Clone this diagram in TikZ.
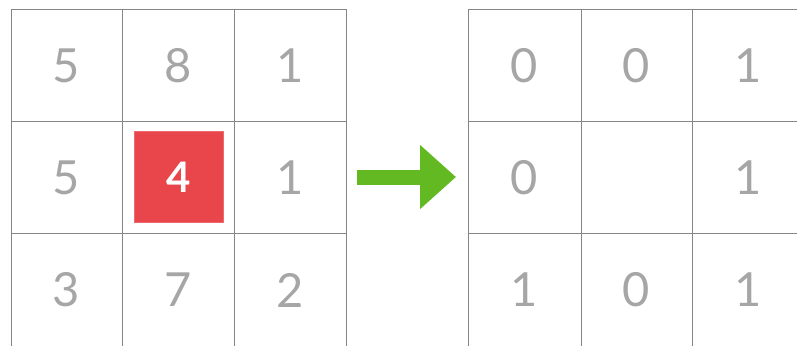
\documentclass[tikz,border=0pt]{standalone}
\usepackage{fontspec}
\setsansfont{Lato}
\usepackage{tikz}
\usetikzlibrary{arrows.meta,positioning}
\definecolor{gridc}{HTML}{858585}
\definecolor{digc}{HTML}{A6A6A6}
\definecolor{hotc}{HTML}{E8464A}
\definecolor{arrc}{HTML}{63B922}
\tikzset{
  gl/.style={gridc,line width=0.9pt},
  dig/.style={digc,font=\sffamily\fontsize{47}{47}\selectfont},
  hot/.style={fill=hotc,draw=hotc!80,line width=1pt,minimum width=89pt,minimum height=91pt,
    text=white,font=\sffamily\bfseries\fontsize{42}{42}\selectfont},
  ar/.style={-{Triangle[length=36pt,width=62pt]},line width=15pt,arrc}
}
\begin{document}
\begin{tikzpicture}[x=1pt,y=-1pt]
\useasboundingbox (0,0) rectangle (797,346);
% left grid
\foreach \x in {11,122,234,346} \draw[gl] (\x,9) -- (\x,346);
\foreach \y in {9,121,233} \draw[gl] (11,\y) -- (346,\y);
% right grid
\foreach \x in {468,581,692} \draw[gl] (\x,9) -- (\x,346);
\foreach \y in {9,121,233} \draw[gl] (468,\y) -- (797,\y);
% input values
\node[dig] (l11) at (66,66) {5};
\node[dig] (l12) at (178,66) {8};
\node[dig] (l13) at (290,66) {1};
\node[dig] (l21) at (66,178) {5};
\node[hot] (l22) at (179,177) {4};
\node[dig] (l23) at (290,178) {1};
\node[dig] (l31) at (66,290) {3};
\node[dig] (l32) at (178,290) {7};
\node[dig] (l33) at (290,290) {2};
% output values
\node[dig] (r11) at (524,66) {0};
\node[dig] (r12) at (636,66) {0};
\node[dig] (r13) at (748,66) {1};
\node[dig] (r21) at (524,178) {0};
\node[dig] (r23) at (748,178) {1};
\node[dig] (r31) at (524,290) {1};
\node[dig] (r32) at (636,290) {0};
\node[dig] (r33) at (748,290) {1};
% arrow
\coordinate (aS) at (357,177);
\coordinate (aE) at (456,177);
\draw[ar] (aS) -- (aE);
\end{tikzpicture}
\end{document}
